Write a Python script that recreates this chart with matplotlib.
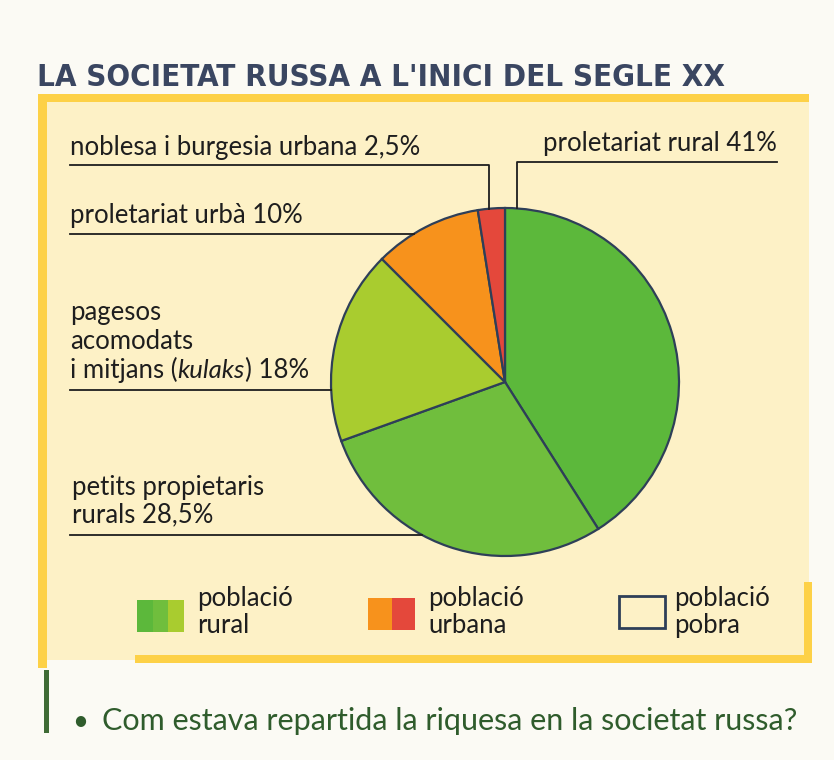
import matplotlib
matplotlib.use("Agg")
import matplotlib.pyplot as plt
from matplotlib.patches import Rectangle
import numpy as np

# ---- data ----
title = "LA SOCIETAT RUSSA A L'INICI DEL SEGLE XX"
groups = ["proletariat rural", "petits propietaris rurals", "pagesos acomodats i mitjans (kulaks)",
          "proletariat urbà", "noblesa i burgesia urbana"]
shares = [41, 28.5, 18, 10, 2.5]
colors = ["#5cb83b", "#70be3d", "#a9cc2f", "#f7921c", "#e4483b"]
legend_labels = ["població\nrural", "població\nurbana", "població\npobra"]
question = "Com estava repartida la riquesa en la societat russa?"

W, H = 834, 760
fig = plt.figure(figsize=(W / 100, H / 100), dpi=100)
fig.patch.set_facecolor("#fbfaf4")
ax = fig.add_axes([0, 0, 1, 1])

FILL = "#fdf1c6"
BORDER = "#fdd147"
INK = "#1e1e1e"
NAVY = "#2e3f58"
LFONT = dict(family=["Lato", "DejaVu Sans"], fontweight="normal", color=INK)

# pie
cx, cy, R = 505, 382, 174
ax.pie(shares, colors=colors, startangle=-90, counterclock=True, center=(cx, cy), radius=R,
       wedgeprops=dict(edgecolor=NAVY, linewidth=1.6), frame=True)
ax.set_xlim(0, W)
ax.set_ylim(H, 0)
ax.set_aspect("equal")
ax.axis("off")

# box
ax.add_patch(Rectangle((40, 96), 769, 564, facecolor=FILL, edgecolor="none", zorder=0))
ax.add_patch(Rectangle((40, 94), 769, 8, facecolor=BORDER, edgecolor="none", zorder=1))
ax.add_patch(Rectangle((38, 94), 9, 574, facecolor=BORDER, edgecolor="none", zorder=1))
ax.add_patch(Rectangle((135, 655), 677, 8, facecolor=BORDER, edgecolor="none", zorder=1))
ax.add_patch(Rectangle((804, 582), 8, 81, facecolor=BORDER, edgecolor="none", zorder=1))

# title
ax.text(37, 86, title, family=["DejaVu Sans"], fontstretch="condensed", fontweight="bold",
        fontsize=22.4, color="#3a4661", va="baseline", ha="left")


def edge_x(y):
    return cx - np.sqrt(max(R ** 2 - (y - cy) ** 2, 0))


def edge_y(x):
    return cy - np.sqrt(R ** 2 - (x - cx) ** 2)


LW = 1.3
# leader lines
ax.plot([70, 489, 489], [165, 165, edge_y(489)], color=INK, lw=LW, zorder=3)
ax.plot([777, 517, 517], [162, 162, edge_y(517)], color=INK, lw=LW, zorder=3)
ax.plot([70, edge_x(234)], [234, 234], color=INK, lw=LW, zorder=3)
ax.plot([70, edge_x(390)], [390, 390], color=INK, lw=LW, zorder=3)
ax.plot([70, edge_x(535)], [535, 535], color=INK, lw=LW, zorder=3)

FS = 18.5
ax.text(70, 155, "noblesa i burgesia urbana 2,5%", fontsize=FS, va="baseline", **LFONT)
ax.text(543, 151, "proletariat rural 41%", fontsize=FS, va="baseline", **LFONT)
ax.text(70, 223, "proletariat urbà 10%", fontsize=FS, va="baseline", **LFONT)
ax.text(70, 320, "pagesos", fontsize=FS, va="baseline", **LFONT)
ax.text(70, 349, "acomodats", fontsize=FS, va="baseline", **LFONT)

fig.canvas.draw()
r = fig.canvas.get_renderer()
inv = ax.transData.inverted()
xcur = 70
for s, st in [("i mitjans (", "normal"), ("kulaks", "italic"), (") 18%", "normal")]:
    tt = ax.text(xcur, 378, s, fontsize=FS, va="baseline", fontstyle=st, **LFONT)
    bb = tt.get_window_extent(renderer=r)
    (xa, _), (xb, _) = inv.transform([[bb.x0, bb.y0], [bb.x1, bb.y0]])
    xcur = xcur + (xb - xa)

ax.text(72, 495, "petits propietaris", fontsize=FS, va="baseline", **LFONT)
ax.text(72, 522, "rurals 28,5%", fontsize=FS, va="baseline", **LFONT)

# legend
sw = 47 / 3
for i in range(3):
    ax.add_patch(Rectangle((137 + i * sw, 600), sw, 32, facecolor=colors[i], edgecolor="none", zorder=3))
ax.add_patch(Rectangle((368, 598), 24, 32, facecolor=colors[3], edgecolor="none", zorder=3))
ax.add_patch(Rectangle((392, 598), 23, 32, facecolor=colors[4], edgecolor="none", zorder=3))
ax.add_patch(Rectangle((619, 596), 46, 32, facecolor="none", edgecolor=NAVY, lw=2, zorder=3))
for x, lab in zip([197, 428, 674], legend_labels):
    l1, l2 = lab.split("\n")
    ax.text(x, 606, l1, fontsize=FS, va="baseline", **LFONT)
    ax.text(x, 633, l2, fontsize=FS, va="baseline", **LFONT)

# question
ax.add_patch(Rectangle((44, 670), 5, 63, facecolor="#3f6b35", edgecolor="none"))
ax.text(72, 730, "•", fontsize=20, color="#2f5c2c", va="baseline", family=["Lato", "DejaVu Sans"])
ax.text(102, 730, question, fontsize=22, color="#2f5c2c", va="baseline", family=["Lato", "DejaVu Sans"])

fig.savefig("out.png", dpi=100, facecolor=fig.get_facecolor())
